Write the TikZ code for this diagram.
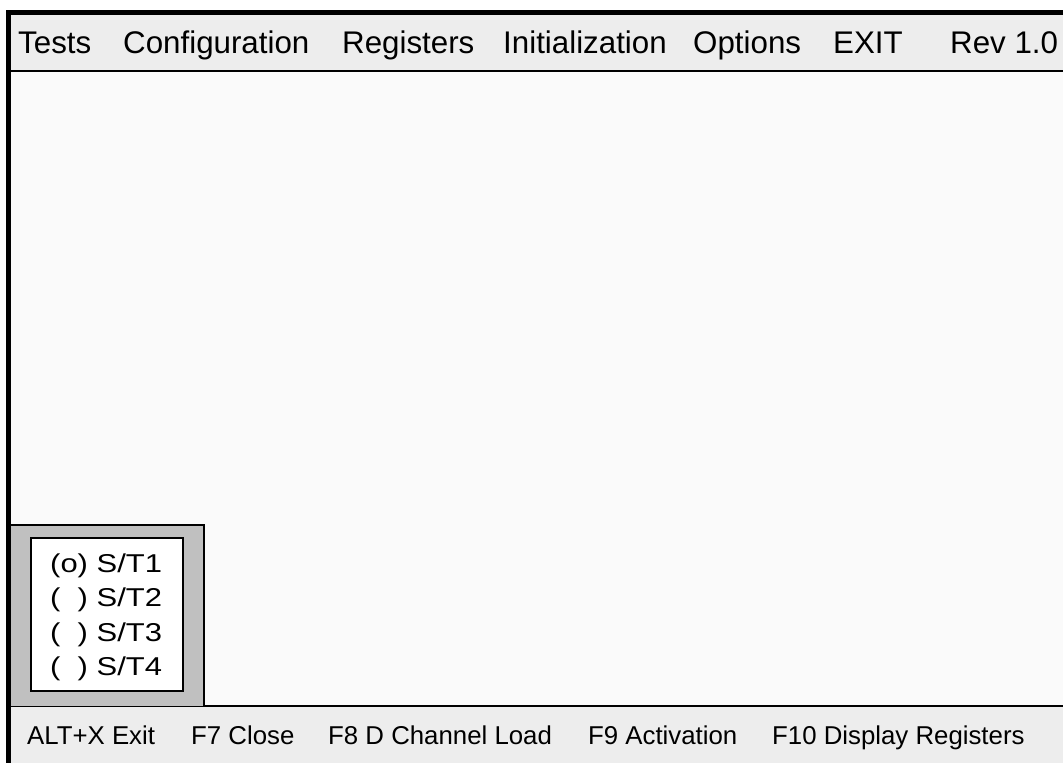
\documentclass[tikz,border=0pt]{standalone}
\usepackage{fontspec}
\setmainfont{Liberation Sans}
\newfontfamily\radiofont[FakeStretch=1.2]{Liberation Sans}
\usetikzlibrary{positioning}
\definecolor{barfill}{RGB}{237,237,237}
\definecolor{panefill}{RGB}{250,250,250}
\definecolor{groupfill}{RGB}{192,192,192}
\tikzset{
    menuitem/.style={anchor=base west, inner sep=0pt, font=\fontsize{31.3}{36}\selectfont},
    keyitem/.style={anchor=base west, inner sep=0pt, font=\fontsize{25.8}{30}\selectfont},
    radioitem/.style={anchor=base west, inner sep=0pt, font=\radiofont\fontsize{25.8}{32}\selectfont},
}

\begin{document}
\begin{tikzpicture}[x=1pt, y=-1pt]
    \useasboundingbox (0,0) rectangle (1063,763);

    % window areas
    \fill[panefill] (8,12) rectangle (1063,763);
    \fill[barfill] (8,12) rectangle (1063,71);
    \fill[barfill] (8,706) rectangle (1063,763);

    % frame and separators
    \draw[line width=5pt] (8.5,763) -- (8.5,12) -- (1063,12);
    \draw[line width=2.5pt] (8,71) -- (1063,71);
    \draw[line width=2.5pt] (8,706) -- (1063,706);

    % menu bar
    \node[menuitem] (tests) at (18,53) {Tests};
    \node[menuitem] (config) at (123,53) {Configuration};
    \node[menuitem] (regs) at (342,53) {Registers};
    \node[menuitem] (init) at (503,53) {Initialization};
    \node[menuitem] (opts) at (693,53) {Options};
    \node[menuitem] (exit) at (833,53) {EXIT};
    \node[menuitem] (rev) at (950,53) {Rev 1.0};

    % station selector
    \draw[fill=groupfill, line width=1.5pt] (10,706) -- (10,525) -- (204,525) -- (204,706);
    \draw[fill=white, line width=2pt] (31,538) rectangle (183,691);
    \node[radioitem] (st1) at (50,572.5) {(o) S/T1};
    \node[radioitem] (st2) at (50,606.5) {(\phantom{o}) S/T2};
    \node[radioitem] (st3) at (50,641) {(\phantom{o}) S/T3};
    \node[radioitem] (st4) at (50,675) {(\phantom{o}) S/T4};

    % function keys
    \node[keyitem] (altx) at (27,744) {ALT+X Exit};
    \node[keyitem] (f7) at (191,744) {F7 Close};
    \node[keyitem] (f8) at (328,744) {F8 D Channel Load};
    \node[keyitem] (f9) at (588,744) {F9 Activation};
    \node[keyitem] (f10) at (772,744) {F10 Display Registers};
\end{tikzpicture}
\end{document}
